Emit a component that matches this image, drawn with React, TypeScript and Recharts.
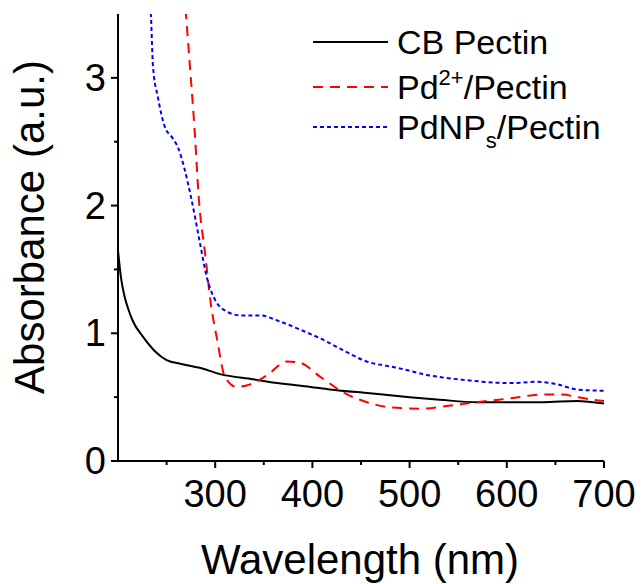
import { LineChart, Line, XAxis, YAxis, Legend } from "recharts";

// CB Pectin
const cbWave = [200, 203, 207, 211, 215, 226, 238, 250, 265, 284, 305, 339, 364, 398, 418, 459, 500, 531, 569, 600, 637, 672, 700];
const cbAbs = [1.65, 1.44, 1.28, 1.18, 1.1, 0.97, 0.86, 0.79, 0.76, 0.73, 0.68, 0.64, 0.61, 0.58, 0.56, 0.53, 0.5, 0.48, 0.46, 0.46, 0.46, 0.47, 0.45];

// Pd2+/Pectin
const pdWave = [262, 270, 274, 279, 283, 290, 295, 302, 310, 322, 336, 353, 374, 387, 408, 436, 449, 480, 511, 538, 569, 603, 637, 658, 672, 689, 700];
const pdAbs = [4.2, 3.49, 3.09, 2.57, 2.07, 1.6, 1.26, 0.95, 0.66, 0.58, 0.6, 0.67, 0.78, 0.77, 0.66, 0.52, 0.48, 0.42, 0.41, 0.43, 0.46, 0.49, 0.52, 0.52, 0.5, 0.48, 0.47];

// PdNPs/Pectin
const npWave = [230, 234, 236, 241, 248, 256, 262, 268, 275, 284, 291, 300, 312, 326, 346, 364, 387, 408, 436, 452, 487, 521, 562, 603, 631, 652, 672, 700];
const npAbs = [4.0, 3.47, 3.09, 2.85, 2.62, 2.53, 2.45, 2.3, 2.07, 1.72, 1.45, 1.26, 1.17, 1.14, 1.14, 1.1, 1.03, 0.96, 0.85, 0.79, 0.73, 0.67, 0.63, 0.61, 0.62, 0.6, 0.56, 0.55];

const xTicks = [250, 300, 350, 400, 450, 500, 550, 600, 650, 700];
const yTicks = [0, 0.5, 1, 1.5, 2, 2.5, 3];

const toPoints = (w: number[], a: number[]) => w.map((v, i) => ({ w: v, a: a[i] }));

const series = [
  { key: "cb", data: toPoints(cbWave, cbAbs), color: "#000000", dash: undefined as string | undefined },
  { key: "pd", data: toPoints(pdWave, pdAbs), color: "#ff0000", dash: "10 7" },
  { key: "np", data: toPoints(npWave, npAbs), color: "#0000ff", dash: "4 3" },
];

const FONT = "'Liberation Sans', Arial, sans-serif";

const XTick = (props: any) => {
  const { x, y, payload } = props;
  const major = payload.value % 100 === 0;
  return (
    <g>
      <line x1={x} x2={x} y1={y} y2={y + (major ? 7 : 4)} stroke="#000" strokeWidth={2} />
      {major && (
        <text x={x} y={y + 46} textAnchor="middle" fontSize={38} fontFamily={FONT} fill="#000">
          {payload.value}
        </text>
      )}
    </g>
  );
};

const YTick = (props: any) => {
  const { x, y, payload } = props;
  const major = Number.isInteger(payload.value);
  return (
    <g>
      <line x1={x} x2={x - (major ? 7 : 4)} y1={y} y2={y} stroke="#000" strokeWidth={2} />
      {major && (
        <text x={x - 12} y={y + 13} textAnchor="end" fontSize={38} fontFamily={FONT} fill="#000">
          {payload.value}
        </text>
      )}
    </g>
  );
};

const renderLegend = () => {
  const rows = [
    { y: 42, color: "#000", dash: undefined, label: <tspan>CB Pectin</tspan> },
    {
      y: 87,
      color: "#ff0000",
      dash: "10 7",
      label: (
        <>
          <tspan>Pd</tspan>
          <tspan fontSize={22} dy={-14}>2+</tspan>
          <tspan dy={14}>/Pectin</tspan>
        </>
      ),
    },
    {
      y: 127,
      color: "#0000ff",
      dash: "4 3",
      label: (
        <>
          <tspan>PdNP</tspan>
          <tspan fontSize={22} dy={9}>s</tspan>
          <tspan dy={-9}>/Pectin</tspan>
        </>
      ),
    },
  ];
  return (
    <svg width={330} height={175} style={{ display: "block" }}>
      {rows.map((r, i) => (
        <g key={i}>
          <line x1={13} x2={88} y1={r.y} y2={r.y} stroke={r.color} strokeWidth={2} strokeDasharray={r.dash} />
          <text x={97} y={r.y + 12} fontSize={34} fontFamily={FONT} fill="#000">
            {r.label}
          </text>
        </g>
      ))}
    </svg>
  );
};

export default function App() {
  return (
    <div style={{ position: "absolute", left: 0, top: 0, width: 643, height: 584, background: "#fff" }}>
      <LineChart width={643} height={584} margin={{ top: 14, right: 39, bottom: 0, left: 0 }}>
        <XAxis
          xAxisId="b"
          dataKey="w"
          type="number"
          domain={[200, 700]}
          ticks={xTicks}
          interval={0}
          height={123}
          tickSize={0}
          tickMargin={0}
          tickLine={false}
          tick={<XTick />}
          axisLine={{ stroke: "#000", strokeWidth: 2 }}
          allowDataOverflow
          label={(p: any) => {
            const vb = p.viewBox;
            return (
              <text x={vb.x + vb.width / 2 - 1} y={vb.y + 113} textAnchor="middle" fontSize={42} fontFamily={FONT} fill="#000">
                Wavelength (nm)
              </text>
            );
          }}
        />
        <XAxis xAxisId="t" orientation="top" type="number" dataKey="w" domain={[200, 700]} height={0} tick={false} tickLine={false} axisLine={{ stroke: "#000", strokeWidth: 1.5 }} allowDataOverflow />
        <YAxis
          yAxisId="l"
          type="number"
          domain={[0, 3.5]}
          ticks={yTicks}
          interval={0}
          width={118}
          tickSize={0}
          tickMargin={0}
          tickLine={false}
          tick={<YTick />}
          axisLine={{ stroke: "#000", strokeWidth: 2 }}
          allowDataOverflow
          label={() => {
            const cx = 44;
            const cy = 227;
            return (
              <text x={cx} y={cy} transform={`rotate(-90, ${cx}, ${cy})`} textAnchor="middle" fontSize={42} fontFamily={FONT} fill="#000">
                Absorbance (a.u.)
              </text>
            );
          }}
        />
        <YAxis yAxisId="r" orientation="right" type="number" domain={[0, 3.5]} width={0} tick={false} tickLine={false} axisLine={{ stroke: "#000", strokeWidth: 1.5 }} allowDataOverflow />
        <Legend
          layout="vertical"
          align="center"
          verticalAlign="middle"
          content={renderLegend}
          wrapperStyle={{ position: "absolute", left: 300, top: 0, width: 330, height: 175 }}
        />
        {series.map((s) => (
          <Line
            key={s.key}
            xAxisId="b"
            yAxisId="l"
            data={s.data}
            dataKey="a"
            type="monotone"
            stroke={s.color}
            strokeWidth={2}
            strokeDasharray={s.dash}
            dot={false}
            activeDot={false}
            isAnimationActive={false}
          />
        ))}
      </LineChart>
    </div>
  );
}
